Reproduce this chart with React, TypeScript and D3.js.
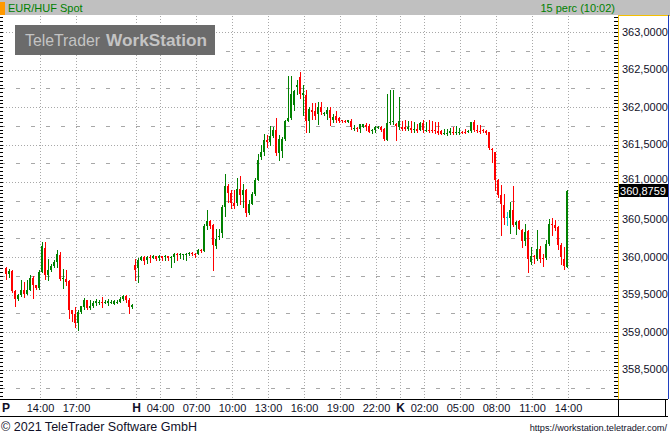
import React from 'react';
import * as d3 from 'd3';

const opens = [359.853,359.779,359.814,359.543,359.445,359.489,359.565,359.512,359.565,359.725,359.623,359.587,359.800,360.125,359.760,359.823,359.876,359.929,360.023,359.712,359.712,359.680,359.289,359.236,359.120,359.267,359.333,359.423,359.325,359.343,359.387,359.400,359.405,359.396,359.387,359.400,359.378,359.400,359.400,359.445,359.476,359.432,359.333,359.889,359.849,359.965,360.000,359.965,360.000,359.992,360.009,359.989,360.009,359.996,360.009,359.996,360.000,360.045,360.023,360.029,360.027,360.036,360.053,360.045,360.045,360.099,360.080,360.409,360.476,360.423,360.143,360.267,360.320,360.667,360.943,360.853,360.720,360.720,360.912,360.823,360.889,360.587,360.712,360.845,361.032,361.333,361.396,361.556,361.533,361.609,361.689,361.387,361.413,361.569,361.813,361.859,362.023,362.267,362.400,362.156,362.156,361.813,361.965,361.947,361.903,362.000,361.903,361.903,361.965,361.832,361.876,361.859,361.823,361.819,361.805,361.813,361.716,361.716,361.712,361.733,361.765,361.752,361.685,361.689,361.729,361.733,361.712,361.565,361.787,361.796,361.779,361.733,361.733,361.729,361.712,361.720,361.689,361.703,361.699,361.787,361.693,361.699,361.689,361.689,361.680,361.680,361.649,361.649,361.653,361.672,361.667,361.667,361.672,361.672,361.667,361.680,361.800,361.689,361.685,361.689,361.680,361.667,361.445,361.400,361.032,360.823,360.689,360.533,360.525,360.632,360.423,360.480,360.365,360.213,360.347,359.934,360.013,359.979,360.112,359.983,359.992,360.179,360.440,360.423,360.400,360.156,359.979,359.867];

const highs = [359.867,359.846,359.823,359.556,359.503,359.689,359.667,359.689,359.756,359.743,359.629,359.823,360.200,360.200,359.979,359.903,359.956,360.089,360.067,359.846,359.823,359.689,359.289,359.333,359.289,359.352,359.453,359.432,359.432,359.409,359.445,359.423,359.467,359.423,359.445,359.423,359.423,359.423,359.463,359.489,359.489,359.449,359.369,359.979,359.983,360.009,360.013,360.009,360.023,360.023,360.013,360.023,360.013,360.023,360.013,360.019,360.053,360.049,360.049,360.045,360.053,360.063,360.063,360.053,360.107,360.107,360.436,360.623,360.489,360.436,360.379,360.379,360.689,361.103,360.969,360.889,360.889,361.059,361.076,360.969,360.903,360.756,360.863,361.049,361.379,361.489,361.636,361.623,361.743,361.733,361.859,361.632,361.600,361.823,362.413,362.413,362.232,362.356,362.467,362.289,362.223,361.996,362.053,362.053,362.067,362.067,361.929,362.000,362.000,361.912,361.947,361.863,361.827,361.823,361.832,361.845,361.756,361.733,361.769,361.779,361.787,361.779,361.712,361.743,361.749,361.743,361.716,362.179,362.223,362.223,361.783,362.133,361.813,361.823,361.813,361.813,361.800,361.779,361.800,361.832,361.800,361.823,361.813,361.800,361.800,361.689,361.712,361.712,361.725,361.733,361.743,361.725,361.685,361.712,361.689,361.800,361.832,361.756,361.756,361.712,361.689,361.667,361.459,361.400,361.045,360.956,360.845,360.600,360.733,360.943,360.476,360.489,360.369,360.445,360.356,360.133,360.023,360.356,360.143,360.036,360.223,360.512,360.525,360.489,360.409,360.187,360.133,360.890];

const lows = [359.712,359.734,359.536,359.347,359.423,359.480,359.467,359.507,359.556,359.453,359.579,359.579,359.796,359.712,359.689,359.809,359.863,359.867,359.689,359.592,359.623,359.192,359.147,359.067,359.032,359.259,359.312,359.312,359.312,359.333,359.356,359.378,359.333,359.383,359.356,359.383,359.369,359.383,359.396,359.423,359.400,359.253,359.316,359.689,359.663,359.956,359.912,359.920,359.933,359.983,359.956,359.956,359.956,359.956,359.956,359.867,359.929,359.956,359.992,359.979,359.956,360.023,360.023,360.000,360.036,360.063,360.076,360.379,360.383,359.823,360.125,360.245,360.267,360.543,360.733,360.649,360.649,360.689,360.712,360.667,360.547,360.569,360.703,360.823,361.023,361.312,361.365,361.467,361.489,361.596,361.356,361.299,361.333,361.556,361.809,361.845,361.956,362.179,362.125,361.889,361.667,361.667,361.845,361.845,361.779,361.903,361.889,361.845,361.756,361.800,361.800,361.800,361.805,361.805,361.796,361.712,361.699,361.680,361.667,361.729,361.699,361.663,361.653,361.667,361.716,361.676,361.556,361.556,361.779,361.769,361.565,361.712,361.689,361.689,361.699,361.667,361.667,361.667,361.689,361.667,361.680,361.667,361.667,361.653,361.645,361.636,361.636,361.623,361.636,361.636,361.645,361.645,361.653,361.653,361.667,361.672,361.680,361.667,361.653,361.667,361.645,361.445,361.267,360.889,360.800,360.289,360.445,360.423,360.320,360.409,360.303,360.369,360.133,360.156,359.800,359.912,359.920,359.956,359.933,359.876,359.979,360.156,360.289,360.356,360.112,359.903,359.845,359.863];

const closes = [359.779,359.814,359.543,359.445,359.489,359.565,359.512,359.565,359.725,359.623,359.587,359.800,360.143,359.760,359.823,359.876,359.929,360.036,359.712,359.720,359.667,359.289,359.236,359.120,359.267,359.343,359.423,359.325,359.343,359.387,359.409,359.405,359.396,359.403,359.409,359.405,359.409,359.405,359.445,359.476,359.432,359.333,359.356,359.832,359.965,360.000,359.943,360.000,359.992,360.009,359.979,360.009,359.989,360.009,359.992,360.005,360.045,360.023,360.036,360.036,360.045,360.053,360.036,360.023,360.099,360.080,360.409,360.476,360.409,360.156,360.245,360.276,360.667,360.943,360.853,360.720,360.683,360.912,360.823,360.889,360.587,360.712,360.845,361.032,361.299,361.396,361.556,361.533,361.609,361.689,361.387,361.569,361.569,361.813,361.859,362.179,362.213,362.289,362.179,362.187,361.813,361.979,361.933,361.876,362.000,361.933,361.920,361.965,361.859,361.867,361.823,361.813,361.813,361.809,361.823,361.733,361.725,361.707,361.769,361.769,361.733,361.667,361.693,361.733,361.739,361.689,361.569,361.787,361.800,361.809,361.752,361.813,361.712,361.712,361.729,361.689,361.712,361.680,361.787,361.699,361.699,361.680,361.685,361.676,361.653,361.645,361.653,361.653,361.680,361.667,361.672,361.672,361.667,361.667,361.680,361.800,361.689,361.680,361.676,361.680,361.653,361.459,361.423,361.032,360.823,360.703,360.525,360.533,360.632,360.423,360.467,360.379,360.213,360.333,359.979,360.009,360.005,360.112,359.979,359.973,360.179,360.445,360.432,360.392,360.156,360.000,359.876,360.8759];

const yTickValues = [358.5, 359, 359.5, 360, 360.5, 361, 361.5, 362, 362.5, 363];
const xTickIndex = [11.5, 23.5, 43.5, 51.5, 63.5, 75.5, 87.5, 99.5, 111.5, 123.5, 131.5, 139.5, 151.5, 163.5, 175.5, 187.5];
const xTickLabels = ['14:00', '17:00', 'H', '04:00', '07:00', '10:00', '13:00', '16:00', '19:00', '22:00', 'K', '02:00', '05:00', '08:00', '11:00', '14:00'];
const firstDayLabel = 'P';
const dayLabels = ['P', 'H', 'K'];
const lastPrice = 360.8759;
const titleText = 'EUR/HUF Spot';
const intervalText = '15 perc (10:02)';

const W = 670;
const H = 435;
const PLOT_L = 0;
const PLOT_R = 618;
const PLOT_T = 16;
const PLOT_B = 399;
const FONT = 'Liberation Sans, Arial, sans-serif';

const fmt = (v: number) => d3.format('.4f')(v).replace('.', ',');

export default function App() {
  const n = closes.length;
  const x = d3.scaleLinear().domain([0, n - 1]).range([6, 6 + 3 * (n - 1)]);
  const y = d3.scaleLinear().domain([358.5, 363]).range([369.5, 32]);

  const minorY = d3.range(358.25, 363, 0.5);
  const tickVals = d3.range(0, 120).map((k) => 357.9 + k * 0.05).filter((v) => y(v) > PLOT_T && y(v) < PLOT_B);

  const candles = closes.map((c, i) => {
    const o = opens[i];
    const cx = Math.round(x(i));
    const yo = Math.round(y(o));
    const yc = Math.round(y(c));
    const top = Math.min(yo, yc);
    const h = Math.max(1, Math.abs(yo - yc));
    const color = c > o ? '#008000' : c < o ? '#ff0000' : '#00c8c8';
    const yh = Math.round(y(Math.max(highs[i], o, c)));
    const yl = Math.round(y(Math.min(lows[i], o, c)));
    return (
      <g key={i} fill={color}>
        <rect x={cx} y={yh} width={1} height={Math.max(1, yl - yh + 1)} />
        <rect x={cx - 1} y={top} width={2} height={h} />
      </g>
    );
  });

  const yLast = y(lastPrice);

  return (
    <svg width={W} height={H} style={{ position: 'absolute', left: 0, top: 0, background: '#fff' }} shapeRendering="crispEdges">
      <rect x={0} y={0} width={W} height={H} fill="#ffffff" />
      {/* header */}
      <rect x={0} y={0} width={W} height={15} fill="#c0c0c0" />
      <rect x={0} y={2} width={5} height={13} fill="#ff9900" />
      <text x={8} y={12} fontFamily={FONT} fontSize={11} fill="#008000">{titleText}</text>
      <text x={615} y={12} fontFamily={FONT} fontSize={11} fill="#008000" textAnchor="end">{intervalText}</text>

      {/* major horizontal grid */}
      {yTickValues.map((v) => (
        <line key={'gy' + v} x1={PLOT_L} x2={PLOT_R} y1={Math.round(y(v)) + 0.5} y2={Math.round(y(v)) + 0.5} stroke="#a8a8a8" strokeDasharray="1 2" />
      ))}
      {/* minor dashed */}
      {minorY.map((v) => (
        <line key={'my' + v} x1={PLOT_L + 0.5} x2={PLOT_R} y1={Math.round(y(v)) + 0.5} y2={Math.round(y(v)) + 0.5} stroke="#a8a8a8" strokeDasharray="4 11" />
      ))}
      {/* vertical grid */}
      {xTickIndex.map((t, k) => (
        <line key={'gx' + k} x1={Math.floor(x(t)) + 0.5} x2={Math.floor(x(t)) + 0.5} y1={PLOT_T} y2={PLOT_B} stroke="#a8a8a8" strokeDasharray="1 2" />
      ))}

      {/* watermark */}
      <rect x={15} y={25} width={200} height={30} fill="#6b6b6b" />
      <text x={25} y={46} fontFamily={FONT} fontSize={17} fill="#c4c4c4" textLength={75} lengthAdjust="spacingAndGlyphs">TeleTrader</text>
      <text x={106} y={46} fontFamily={FONT} fontSize={17} fontWeight="bold" fill="#c4c4c4" textLength={101} lengthAdjust="spacingAndGlyphs">WorkStation</text>

      {/* candles */}
      <g>{candles}</g>

      {/* left ticks */}
      {tickVals.map((v, k) => (
        <line key={'lt' + k} x1={0} x2={3} y1={Math.round(y(v)) + 0.5} y2={Math.round(y(v)) + 0.5} stroke="#000" />
      ))}
      {/* right ticks */}
      {tickVals.map((v, k) => (
        <line key={'rt' + k} x1={614} x2={618} y1={Math.round(y(v)) + 0.5} y2={Math.round(y(v)) + 0.5} stroke="#000" />
      ))}

      {/* right axis frame */}
      <line x1={618.5} x2={618.5} y1={15} y2={PLOT_B} stroke="#f5c000" />
      <line x1={618} x2={670} y1={15.5} y2={15.5} stroke="#f5c000" />
      <line x1={668.5} x2={668.5} y1={15} y2={PLOT_B} stroke="#2040c0" />

      {/* y labels (the one hidden by the last-price box is clipped as in the source) */}
      {yTickValues.map((v) => {
        const yy = y(v);
        const hidden = Math.abs(yy - yLast) < 13;
        return (
          <text key={'yl' + v} x={622} y={hidden ? yy + 1 : yy} dy={hidden ? '0' : '0.35em'} fontFamily={FONT} fontSize={11} fill="#101028">{fmt(v)}</text>
        );
      })}
      {/* last price box */}
      <rect x={619} y={Math.round(yLast) - 7} width={49} height={13} fill="#000" />
      <text x={620} y={yLast} dy="0.35em" fontFamily={FONT} fontSize={11} fill="#fff" textLength={46} lengthAdjust="spacingAndGlyphs">{fmt(lastPrice)}</text>

      {/* bottom axis */}
      <line x1={0} x2={668} y1={399.5} y2={399.5} stroke="#000" />
      <line x1={0} x2={668} y1={416.5} y2={416.5} stroke="#000" />
      <line x1={618.5} x2={618.5} y1={399} y2={417} stroke="#000" />
      <line x1={665.5} x2={665.5} y1={399} y2={417} stroke="#000" />
      <text x={x(0)} y={412} fontFamily={FONT} fontSize={12} fontWeight="bold" fill="#101028" textAnchor="middle">{firstDayLabel}</text>
      {xTickIndex.map((t, k) => {
        const isDay = dayLabels.includes(xTickLabels[k]);
        return (
          <text key={'xl' + k} x={x(t)} y={412} fontFamily={FONT} fontSize={isDay ? 12 : 11} fontWeight={isDay ? 'bold' : 'normal'} fill="#101028" textAnchor="middle">{xTickLabels[k]}</text>
        );
      })}

      {/* footer */}
      <text x={1} y={431} fontFamily={FONT} fontSize={12} fill="#101028" textLength={196} lengthAdjust="spacingAndGlyphs">© 2021 TeleTrader Software GmbH</text>
      <text x={667} y={431} fontFamily={FONT} fontSize={9.2} fill="#101028" textAnchor="end">https://workstation.teletrader.com/</text>
    </svg>
  );
}
